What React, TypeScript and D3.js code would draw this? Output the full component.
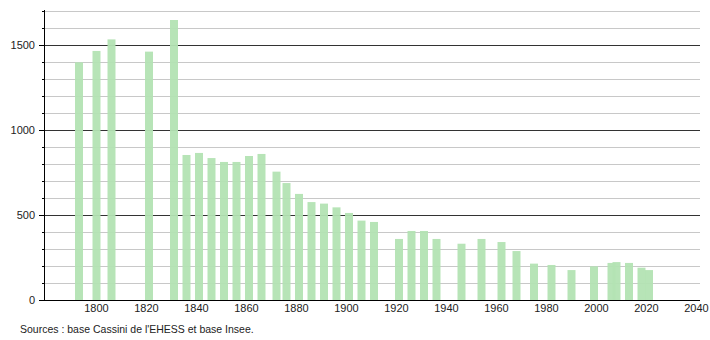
import React from "react";
import * as d3 from "d3";

const years = [1793, 1800, 1806, 1821, 1831, 1836, 1841, 1846, 1851, 1856, 1861, 1866, 1872, 1876, 1881, 1886, 1891, 1896, 1901, 1906, 1911, 1921, 1926, 1931, 1936, 1946, 1954, 1962, 1968, 1975, 1982, 1990, 1999, 2006, 2008, 2013, 2018, 2021];
const population = [1398, 1465, 1533, 1461, 1647, 853, 865, 835, 812, 812, 847, 859, 755, 688, 624, 576, 567, 545, 512, 467, 459, 359, 406, 406, 359, 331, 359, 341, 288, 214, 206, 176, 198, 218, 223, 218, 190, 176];
const xTicks = [1800, 1820, 1840, 1860, 1880, 1900, 1920, 1940, 1960, 1980, 2000, 2020, 2040];
const yTicks = [0, 500, 1000, 1500];
const sourceText = "Sources : base Cassini de l'EHESS et base Insee.";

const W = 710;
const H = 340;
const left = 44;
const right = 700;
const top = 11;
const bottom = 300;

export default function App() {
  const x = d3.scaleLinear().domain([1779, 2041]).range([left, 699]);
  const y = d3.scaleLinear().domain([0, 1700]).range([bottom, top]);
  const minor = d3.range(0, 1701, 100);
  const barW = 8;
  const font = "'Liberation Sans', Arial, sans-serif";
  return (
    <svg width={W} height={H} style={{ position: "absolute", left: 0, top: 0, background: "#fff" }} fontFamily={font}>
      <rect x={0} y={0} width={W} height={H} fill="#fff" />
      {minor.map((v) => (
        <line key={"g" + v} x1={left} x2={right} y1={y(v)} y2={y(v)}
          stroke={v % 500 === 0 ? "#333" : "#c8c8c8"} strokeWidth={1} shapeRendering="crispEdges" />
      ))}
      {years.map((yr, i) => (
        <rect key={"b" + yr} x={x(yr) - barW / 2} y={y(population[i])} width={barW}
          height={bottom - y(population[i])} fill="#b3e3b3" fillOpacity={0.95} />
      ))}
      {minor.map((v) => (
        <line key={"t" + v} x1={v % 500 === 0 ? left - 5 : left - 2} x2={left} y1={y(v)} y2={y(v)}
          stroke="#000" strokeWidth={1} shapeRendering="crispEdges" />
      ))}
      <line x1={left} x2={left} y1={top - 1} y2={bottom} stroke="#000" strokeWidth={1} shapeRendering="crispEdges" />
      <line x1={left} x2={right} y1={bottom} y2={bottom} stroke="#000" strokeWidth={1} shapeRendering="crispEdges" />
      {yTicks.map((v) => (
        <text key={"yl" + v} x={35} y={y(v)} dy="0.35em" textAnchor="end" fontSize={11} fill="#222">{v}</text>
      ))}
      {xTicks.map((v) => (
        <text key={"xl" + v} x={x(v)} y={312} textAnchor="middle" fontSize={11} fill="#222">{v}</text>
      ))}
      <text x={20} y={333} fontSize={10.5} fill="#222">{sourceText}</text>
    </svg>
  );
}
